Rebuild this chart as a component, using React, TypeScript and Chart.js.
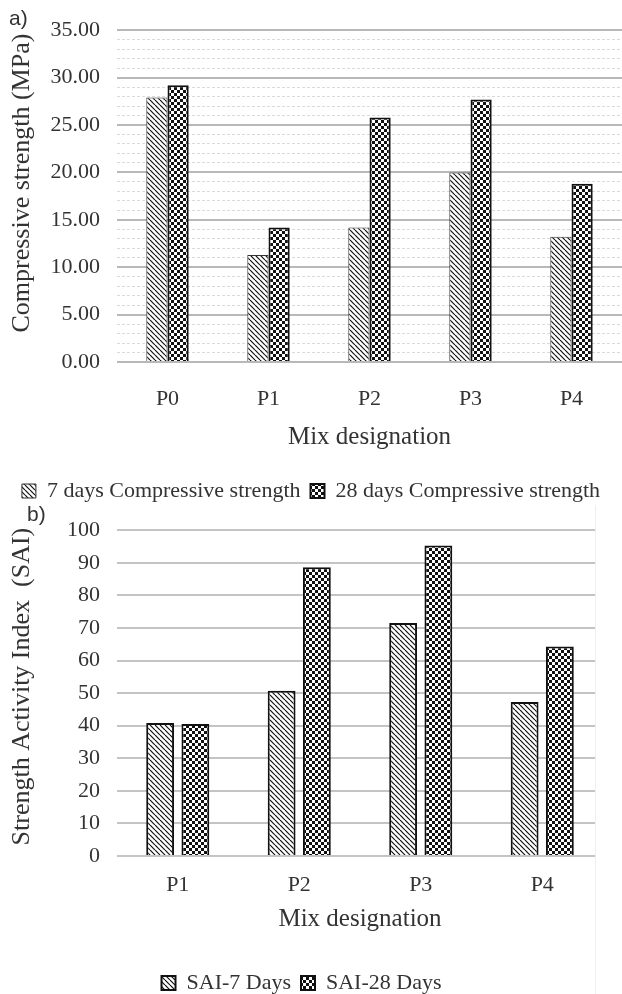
import React, { useEffect, useRef } from 'react';
import { Chart, registerables } from 'chart.js';

Chart.register(...registerables);

// ---------- data ----------
const mixA = ['P0', 'P1', 'P2', 'P3', 'P4'];
const cs7 = [27.9, 11.3, 14.2, 20.0, 13.2];
const cs28 = [29.2, 14.2, 25.8, 27.7, 18.8];
const seriesA = ['7 days Compressive strength', '28 days Compressive strength'];

const mixB = ['P1', 'P2', 'P3', 'P4'];
const sai7 = [40.8, 50.7, 71.5, 47.3];
const sai28 = [40.5, 88.6, 95.3, 64.3];
const seriesB = ['SAI-7 Days', 'SAI-28 Days'];

const SERIF = "'Liberation Serif', 'Times New Roman', serif";
const SANS = "'Liberation Sans', Arial, sans-serif";
const TEXT = '#333333';

function hatchPattern(): CanvasPattern | string {
  const s = 5;
  const c = document.createElement('canvas');
  c.width = s;
  c.height = s;
  const g = c.getContext('2d');
  if (!g) return '#999';
  g.fillStyle = '#ffffff';
  g.fillRect(0, 0, s, s);
  g.strokeStyle = '#111111';
  g.lineWidth = 1.2;
  for (let k = -1; k <= 1; k++) {
    g.beginPath();
    g.moveTo(k * s, 0);
    g.lineTo(k * s + s, s);
    g.stroke();
  }
  return g.createPattern(c, 'repeat') || '#999';
}

function checkerPattern(): CanvasPattern | string {
  const s = 6;
  const c = document.createElement('canvas');
  c.width = s;
  c.height = s;
  const g = c.getContext('2d');
  if (!g) return '#333';
  g.fillStyle = '#111111';
  g.fillRect(0, 0, s, s);
  g.fillStyle = '#ffffff';
  g.fillRect(0, 0, 3, 3);
  g.fillRect(3, 3, 3, 3);
  return g.createPattern(c, 'repeat') || '#333';
}

export default function App() {
  const refA = useRef<HTMLCanvasElement>(null);
  const refB = useRef<HTMLCanvasElement>(null);

  useEffect(() => {
    const hatch = hatchPattern();
    const checker = checkerPattern();

    const chartA = new Chart(refA.current as HTMLCanvasElement, {
      type: 'bar',
      data: {
        labels: mixA,
        datasets: [
          {
            label: seriesA[0],
            data: cs7,
            backgroundColor: hatch as any,
            borderColor: '#333333',
            borderWidth: 1,
            barPercentage: 1,
            categoryPercentage: 0.42,
          },
          {
            label: seriesA[1],
            data: cs28,
            backgroundColor: checker as any,
            borderColor: '#111111',
            borderWidth: 2,
            barPercentage: 1,
            categoryPercentage: 0.42,
          },
        ],
      },
      options: {
        animation: false,
        responsive: false,
        maintainAspectRatio: false,
        layout: { padding: { top: 29, left: 0, right: 0, bottom: 0 } },
        plugins: {
          tooltip: { enabled: false },
          legend: {
            position: 'bottom',
            labels: {
              font: { family: SERIF, size: 22 },
              color: TEXT,
              boxWidth: 14,
              boxHeight: 14,
              padding: 10,
            },
          },
        },
        scales: {
          x: {
            grid: { display: false },
            border: { display: false },
            ticks: { font: { family: SERIF, size: 22 }, color: TEXT, padding: 16 },
            title: {
              display: true,
              text: 'Mix designation',
              font: { family: SERIF, size: 25 },
              color: TEXT,
              padding: { top: 0, bottom: 18 },
            },
            afterFit: (s: any) => {
              s.height = 108;
            },
          },
          y: {
            min: 0,
            max: 35,
            ticks: {
              stepSize: 1,
              autoSkip: false,
              padding: 17,
              font: { family: SERIF, size: 22 },
              color: TEXT,
              callback: (v: any) => (Number(v) % 5 === 0 ? Number(v).toFixed(2) : ''),
            },
            grid: {
              drawTicks: false,
              color: (ctx: any) => (ctx.tick && ctx.tick.value % 5 === 0 ? '#b8b8b8' : '#dadada'),
              lineWidth: (ctx: any) => (ctx.tick && ctx.tick.value % 5 === 0 ? 2 : 1),
            },
            border: {
              display: false,
              dash: (ctx: any) => (ctx.tick && ctx.tick.value % 5 === 0 ? [] : [3, 2]),
            },
            title: {
              display: true,
              text: '    Compressive strength (MPa)',
              font: { family: SERIF, size: 26 },
              color: TEXT,
              padding: { top: 7, bottom: 0 },
            },
            afterFit: (s: any) => {
              s.width = 117;
            },
          },
        },
      },
    });

    const chartB = new Chart(refB.current as HTMLCanvasElement, {
      type: 'bar',
      data: {
        labels: mixB,
        datasets: [
          {
            label: seriesB[0],
            data: sai7,
            backgroundColor: hatch as any,
            borderColor: '#111111',
            borderWidth: 2,
            barPercentage: 0.79,
            categoryPercentage: 0.58,
          },
          {
            label: seriesB[1],
            data: sai28,
            backgroundColor: checker as any,
            borderColor: '#111111',
            borderWidth: 2,
            barPercentage: 0.79,
            categoryPercentage: 0.58,
          },
        ],
      },
      options: {
        animation: false,
        responsive: false,
        maintainAspectRatio: false,
        layout: { padding: { top: 23, left: 0, right: 19, bottom: 0 } },
        plugins: {
          tooltip: { enabled: false },
          legend: {
            position: 'bottom',
            labels: {
              font: { family: SERIF, size: 22 },
              color: TEXT,
              boxWidth: 14,
              boxHeight: 14,
              padding: 10,
            },
          },
        },
        scales: {
          x: {
            grid: { display: false },
            border: { display: false },
            ticks: { font: { family: SERIF, size: 22 }, color: TEXT, padding: 8 },
            title: {
              display: true,
              text: 'Mix designation',
              font: { family: SERIF, size: 25 },
              color: TEXT,
              padding: { top: 0, bottom: 28 },
            },
            afterFit: (s: any) => {
              s.height = 106;
            },
          },
          y: {
            min: 0,
            max: 100,
            ticks: {
              stepSize: 10,
              padding: 17,
              font: { family: SERIF, size: 22 },
              color: TEXT,
            },
            grid: { drawTicks: false, color: '#c4c4c4', lineWidth: 2 },
            border: { display: false },
            title: {
              display: true,
              text: '  Strength Activity Index  (SAI)',
              font: { family: SERIF, size: 26 },
              color: TEXT,
              padding: { top: 7, bottom: 0 },
            },
            afterFit: (s: any) => {
              s.width = 117;
            },
          },
        },
      },
    });

    return () => {
      chartA.destroy();
      chartB.destroy();
    };
  }, []);

  return (
    <div
      style={{
        position: 'absolute',
        left: 0,
        top: 0,
        width: 622,
        height: 994,
        overflow: 'hidden',
        background: '#ffffff',
      }}
    >
      <canvas
        ref={refA}
        width={622}
        height={512}
        style={{ position: 'absolute', left: 0, top: 0, width: 622, height: 512 }}
      />
      <canvas
        ref={refB}
        width={622}
        height={504}
        style={{ position: 'absolute', left: 0, top: 500, width: 622, height: 504 }}
      />
      <div
        style={{
          position: 'absolute',
          left: 595,
          top: 505,
          width: 27,
          height: 489,
          background: '#ffffff',
          borderLeft: '1px solid #efefef',
        }}
      />
      <div
        style={{
          position: 'absolute',
          left: 9,
          top: 6,
          font: `21px ${SANS}`,
          color: TEXT,
        }}
      >
        a)
      </div>
      <div
        style={{
          position: 'absolute',
          left: 27,
          top: 502,
          font: `21px ${SANS}`,
          color: TEXT,
        }}
      >
        b)
      </div>
    </div>
  );
}
